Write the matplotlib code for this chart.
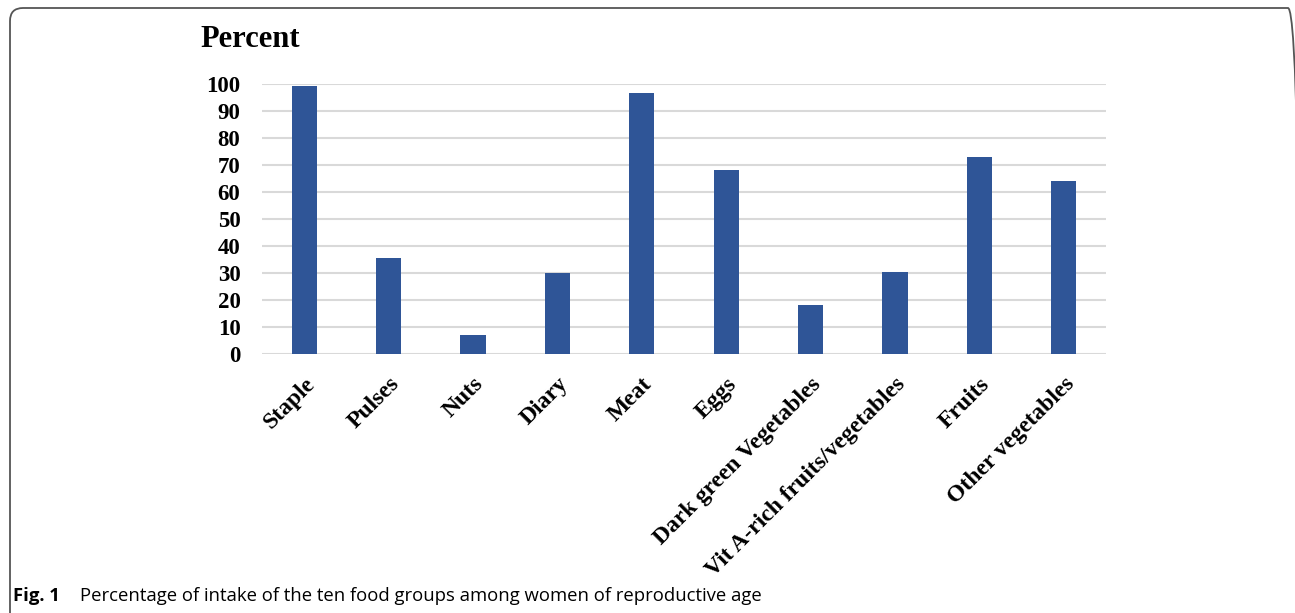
import matplotlib.pyplot as plt
import numpy as np
from matplotlib.patches import FancyBboxPatch

# food group intake, percent of women
groups = ['Staple', 'Pulses', 'Nuts', 'Diary', 'Meat', 'Eggs',
          'Dark green Vegetables', 'Vit A-rich fruits/vegetables',
          'Fruits', 'Other vegetables']
percent = [99.0, 35.5, 7.1, 29.8, 96.5, 68.1, 18.1, 30.5, 73.0, 63.9]
yticks = [0, 10, 20, 30, 40, 50, 60, 70, 80, 90, 100]

W, H = 1295, 613
fig = plt.figure(figsize=(W / 100, H / 100), dpi=100)
fig.patch.set_facecolor('white')

# rounded figure frame, running off the bottom and right edges
frame = FancyBboxPatch((10, -40), W - 10 + 6, H - 8 + 40,
                       boxstyle='round,pad=0,rounding_size=13',
                       transform=None, fill=False, clip_on=False,
                       edgecolor='#555555', linewidth=1.3)
fig.patches.append(frame)

ax = fig.add_axes([262 / W, 1 - 354 / H, (1106 - 262) / W, (354 - 83.7) / H])
x = np.arange(len(groups))
ax.bar(x, percent, width=0.30, color='#2F5597', zorder=3)

ax.set_xlim(-0.5, len(groups) - 0.5)
ax.set_ylim(0, 100)
ax.set_yticks(yticks)
ax.set_yticklabels([str(t) for t in yticks], family='Liberation Serif',
                   fontweight='bold', fontsize=16.5)
ax.grid(axis='y', color='#D9D9D9', linewidth=1.5, zorder=0)
ax.set_axisbelow(True)
ax.tick_params(axis='y', length=0, pad=15.5)
ax.tick_params(axis='x', length=0, pad=14)
for s in ax.spines.values():
    s.set_visible(False)

ax.set_xticks(x)
ax.set_xticklabels(groups, rotation=45, ha='right', rotation_mode='anchor',
                   family='Liberation Serif', fontweight='bold', fontsize=17)

fig.text(200 / W, 1 - 47 / H, 'Percent', family='Liberation Serif',
         fontweight='bold', fontsize=22, ha='left', va='baseline')

fig.text(13 / W, 1 - 601 / H, 'Fig. 1', family='Open Sans',
         fontweight='bold', fontsize=13.3, ha='left', va='baseline')
fig.text(80 / W, 1 - 601 / H,
         'Percentage of intake of the ten food groups among women of reproductive age',
         family='Open Sans', fontsize=13.3, ha='left', va='baseline')

fig.savefig('out.png', dpi=100)
